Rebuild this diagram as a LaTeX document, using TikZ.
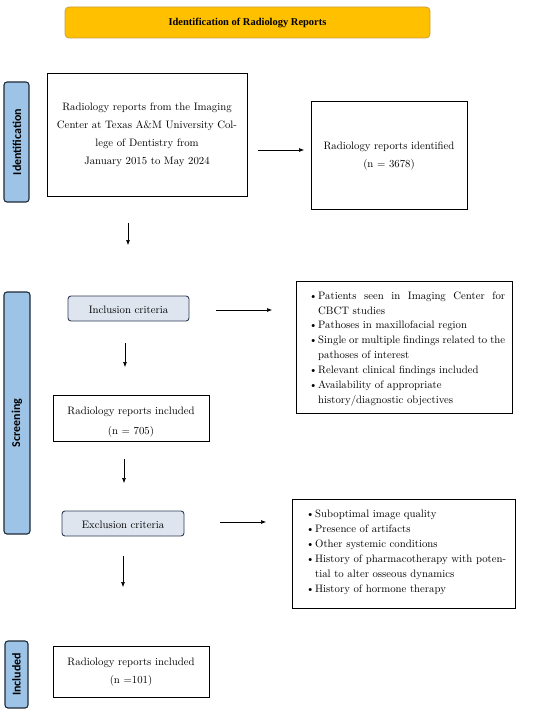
\documentclass[tikz,border=0pt]{standalone}
\usepackage{fontspec}
\newfontfamily\titlefont{Liberation Serif}
\newfontfamily\sidefont{Carlito}
\usetikzlibrary{arrows.meta}
\definecolor{titlefill}{HTML}{FFC000}
\definecolor{titledraw}{HTML}{C9A040}
\definecolor{sidefill}{HTML}{9DC3E6}
\definecolor{sidedraw}{HTML}{1E2A38}
\definecolor{critfill}{HTML}{DEE5EF}
\definecolor{critdraw}{HTML}{2E3B55}
\newcommand{\bitem}[1]{\noindent\hangindent=9pt\hangafter=1\makebox[9pt][l]{\textbullet}#1\par}
\begin{document}
\begin{tikzpicture}[x=1bp,y=-1bp,
  box/.style={draw=black,line width=0.9pt,fill=white},
  sidebar/.style={draw=sidedraw,fill=sidefill,line width=1.1pt,rounded corners=3pt},
  critbox/.style={draw=critdraw,fill=critfill,line width=0.9pt,rounded corners=3pt},
  flow/.style={-{Latex[length=5pt,width=4pt]},line width=0.6pt,black},
  txt/.style={font=\fontsize{10.8}{18}\selectfont,align=center,inner sep=0pt},
  sidetxt/.style={font=\sidefont\bfseries\fontsize{12}{13}\selectfont,rotate=90,inner sep=0pt}]
\useasboundingbox (0,0) rectangle (550,714);
% title
\draw[fill=titlefill,draw=titledraw,line width=0.8pt,rounded corners=4pt] (65,7) rectangle (430,38);
\node[font=\titlefont\bfseries\fontsize{10.5}{12}\selectfont,inner sep=0pt] (title) at (247.5,23) {Identification of Radiology Reports};
% sidebars
\draw[sidebar] (4,82) rectangle (29,202);
\node[sidetxt] (sideid) at (17,142) {Identification};
\draw[sidebar] (4,292) rectangle (30,534);
\node[sidetxt] (sidescr) at (17,423) {Screening};
\draw[sidebar] (5,641) rectangle (28,708);
\node[sidetxt] (sideinc) at (16.5,674.5) {Included};
% identification boxes
\draw[box] (47,73) rectangle (247,196);
\node[txt] (src) at (147,134.5) {Radiology reports from the Imaging\\Center at Texas A\&M University Col-\\lege of Dentistry from\\January 2015 to May 2024};
\coordinate (srcE) at (258,150);
\draw[box] (311,101) rectangle (467,209);
\node[txt] (ident) at (389,156) {Radiology reports identified\\(n = 3678)};
\coordinate (identW) at (304,150);
\draw[flow] (srcE) -- (identW);
\coordinate (d1a) at (128,223);
\coordinate (d1b) at (128,245);
\draw[flow] (d1a) -- (d1b);
% inclusion
\draw[critbox] (68,296) rectangle (189,321);
\node[txt] (inc) at (128.5,309.5) {Inclusion criteria};
\coordinate (incE) at (216,310);
\coordinate (inclW) at (272,310);
\draw[flow] (incE) -- (inclW);
\draw[box] (296,281) rectangle (512,413);
\node[anchor=north west,inner sep=0pt,text width=196bp,align=justify,font=\fontsize{10.8}{14.9}\selectfont] (incl) at (309,291.5)
 {\bitem{Patients seen in Imaging Center for\linebreak CBCT studies}
  \bitem{Pathoses in maxillofacial region}
  \bitem{Single or multiple findings related to the pathoses of interest}
  \bitem{Relevant clinical findings included}
  \bitem{Availability of appropriate\hfill\break history/diagnostic objectives}};
\coordinate (d2a) at (125,343);
\coordinate (d2b) at (125,367);
\draw[flow] (d2a) -- (d2b);
\draw[box] (53,395) rectangle (209,441);
\node[txt,font=\fontsize{10.8}{20}\selectfont] (rep705) at (131,422) {Radiology reports included\\(n = 705)};
\coordinate (d3a) at (124,459);
\coordinate (d3b) at (124,483);
\draw[flow] (d3a) -- (d3b);
% exclusion
\draw[critbox] (62,511) rectangle (184,536);
\node[txt] (exc) at (123,525) {Exclusion criteria};
\coordinate (excE) at (220,522);
\coordinate (exclW) at (266,522);
\draw[flow] (excE) -- (exclW);
\draw[box] (292,499) rectangle (515,608);
\node[anchor=north west,inner sep=0pt,text width=200bp,align=justify,font=\fontsize{10.8}{15}\selectfont] (excl) at (306,509.5)
 {\bitem{Suboptimal image quality}
  \bitem{Presence of artifacts}
  \bitem{Other systemic conditions}
  \bitem{History of pharmacotherapy with poten-\linebreak tial to alter osseous dynamics}
  \bitem{History of hormone therapy}};
\coordinate (d4a) at (123,556);
\coordinate (d4b) at (123,587);
\draw[flow] (d4a) -- (d4b);
% final
\draw[box] (53,646) rectangle (209,697);
\node[txt] (rep101) at (131,672) {Radiology reports included\\(n =101)};
\end{tikzpicture}
\end{document}
